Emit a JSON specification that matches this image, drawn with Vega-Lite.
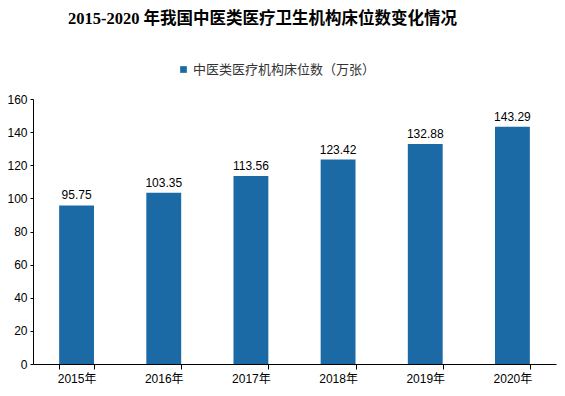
{
  "$schema": "https://vega.github.io/schema/vega-lite/v6.json",
  "autosize": "none",
  "width": 523,
  "height": 265,
  "padding": {"left": 33, "top": 99, "right": 9, "bottom": 32},
  "background": "white",
  "title": {
    "text": "2015-2020 年我国中医类医疗卫生机构床位数变化情况",
    "font": "Liberation Serif, Noto Sans CJK SC",
    "fontSize": 16.5,
    "fontWeight": "bold",
    "color": "#000000",
    "anchor": "middle",
    "dx": -32,
    "offset": 36
  },
  "data": {
    "values": [
      {"year": "2015年", "value": 95.75, "series": "中医类医疗机构床位数（万张）"},
      {"year": "2016年", "value": 103.35, "series": "中医类医疗机构床位数（万张）"},
      {"year": "2017年", "value": 113.56, "series": "中医类医疗机构床位数（万张）"},
      {"year": "2018年", "value": 123.42, "series": "中医类医疗机构床位数（万张）"},
      {"year": "2019年", "value": 132.88, "series": "中医类医疗机构床位数（万张）"},
      {"year": "2020年", "value": 143.29, "series": "中医类医疗机构床位数（万张）"}
    ]
  },
  "encoding": {
    "x": {
      "field": "year",
      "type": "nominal",
      "sort": null,
      "scale": {"paddingInner": 0.6, "paddingOuter": 0.3},
      "axis": {
        "title": null,
        "labelAngle": 0,
        "labelFont": "Liberation Sans, Noto Sans CJK SC",
        "labelFontSize": 12,
        "labelColor": "#000000",
        "domainColor": "#000000",
        "tickColor": "#000000",
        "tickBand": "extent",
        "tickSize": 5,
        "labelPadding": 4
      }
    },
    "y": {
      "field": "value",
      "type": "quantitative",
      "scale": {"domain": [0, 160]},
      "axis": {
        "title": null,
        "values": [0, 20, 40, 60, 80, 100, 120, 140, 160],
        "grid": false,
        "labelFont": "Liberation Sans",
        "labelFontSize": 12,
        "labelColor": "#000000",
        "domainColor": "#000000",
        "tickColor": "#000000",
        "tickSize": 3,
        "labelPadding": 3
      }
    }
  },
  "layer": [
    {
      "mark": {"type": "bar", "color": "#1c6aa5"},
      "encoding": {
        "color": {
          "field": "series",
          "type": "nominal",
          "scale": {"range": ["#1c6aa5"]},
          "legend": {
            "title": null,
            "orient": "none",
            "legendX": 144,
            "legendY": -36,
            "direction": "horizontal",
            "symbolType": "square",
            "symbolSize": 45,
            "labelFont": "Noto Sans CJK SC",
            "labelFontSize": 13,
            "labelColor": "#333333",
            "labelOffset": 3,
            "labelLimit": 400
          }
        }
      }
    },
    {
      "mark": {"type": "text", "dy": -10, "font": "Liberation Sans", "fontSize": 12, "color": "#000000"},
      "encoding": {
        "text": {"field": "value", "type": "quantitative", "format": ".2f"}
      }
    }
  ],
  "config": {"view": {"stroke": null}}
}
